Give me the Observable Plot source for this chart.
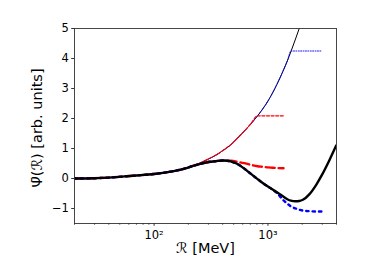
<!DOCTYPE html>
<html><head><meta charset="utf-8">
<script src="https://cdn.jsdelivr.net/npm/d3@7"></script>
<script src="https://cdn.jsdelivr.net/npm/@observablehq/plot@0.6"></script>
<style>body{margin:0;background:#fff} svg{display:block}</style>
</head><body><div id="chart"></div>
<script>
// Energies R [MeV]
const R = [20, 30, 40, 55, 70, 100, 140, 185, 220, 255, 300, 350, 408, 470, 535, 620, 700, 811, 900, 1000, 1100, 1200, 1371, 1480, 1591, 1746, 1882, 2026, 2317, 2653, 2980, 3473, 3975];
// thin black curve
const thin = [0.00,0.01,0.03,0.07,0.10,0.15,0.23,0.33,0.42,0.52,0.65,0.78,0.95,1.12,1.33,1.58,1.80,2.09,2.32,2.58,2.86,3.14,3.62,3.92,4.23,4.65,5.00,5.35,null,null,null,null,null];
// thick black curve
const thick = [0.00,0.01,0.03,0.07,0.10,0.15,0.23,0.33,0.42,0.49,0.55,0.58,0.60,0.57,0.49,0.33,0.17,-0.02,-0.15,-0.27,-0.37,-0.46,-0.61,-0.69,-0.74,-0.76,-0.75,-0.71,-0.52,-0.21,0.12,0.62,1.10];
// red dashed (thin)
const redThin = [0.00,0.01,0.03,0.07,0.10,0.15,0.23,0.33,0.42,0.52,0.65,0.78,0.95,1.12,1.33,1.58,1.80,2.09,2.09,2.09,2.09,2.09,2.09,null,null,null,null,null,null,null,null,null,null];
// blue dotted (thin)
const blueThin = [0.00,0.01,0.03,0.07,0.10,0.15,0.23,0.33,0.42,0.52,0.65,0.78,0.95,1.12,1.33,1.58,1.80,2.09,2.32,2.58,2.86,3.14,3.62,3.92,4.25,4.25,4.25,4.25,4.25,4.25,4.25,null,null];
// red dashed (thick)
const redThick = [0.00,0.01,0.03,0.07,0.10,0.15,0.23,0.33,0.42,0.49,0.55,0.58,0.60,0.59,0.56,0.51,0.46,0.41,0.39,0.37,0.36,0.35,0.34,null,null,null,null,null,null,null,null,null,null];
// blue dotted (thick)
const blueThick = [0.00,0.01,0.03,0.07,0.10,0.15,0.23,0.33,0.42,0.49,0.55,0.58,0.60,0.57,0.49,0.33,0.17,-0.02,-0.15,-0.27,-0.37,-0.49,-0.73,-0.84,-0.93,-1.00,-1.04,-1.07,-1.09,-1.10,-1.10,null,null];

const xMajor = [100, 1000];
const xMajorLabels = ["10²", "10³"];
const xMinor = [20,30,40,50,60,70,80,90,200,300,400,500,600,700,800,900,2000,3000,4000];
const yTicks = [-1, 0, 1, 2, 3, 4, 5];
const yTickLabels = ["−1", "0", "1", "2", "3", "4", "5"];
const xLabel = "ℛ [MeV]";
const yLabel = "Ψ̄(ℛ) [arb. units]";

const series = vals => R.map((r, i) => ({r, v: vals[i]})).filter(d => d.v != null);
const base = {x: "r", y: "v", curve: "monotone-x", clip: true};

const chart = Plot.plot({
  width: 374, height: 280,
  marginLeft: 74, marginRight: 38, marginTop: 28, marginBottom: 57,
  style: {fontFamily: "DejaVu Sans", fontSize: "11.5px", color: "black", background: "white"},
  x: {type: "log", domain: [20, 4000]},
  y: {domain: [-1.5, 5]},
  marks: [
    Plot.line(series(thin), {...base, stroke: "black", strokeWidth: 1}),
    Plot.line(series(blueThin), {...base, stroke: "blue", strokeWidth: 1, strokeDasharray: "0.9,1.5"}),
    Plot.line(series(redThin), {...base, stroke: "red", strokeWidth: 1.2, strokeDasharray: "3,1.6"}),
    Plot.line(series(redThick), {...base, stroke: "red", strokeWidth: 2.4, strokeDasharray: "9,3.9"}),
    Plot.line(series(blueThick), {...base, stroke: "blue", strokeWidth: 2.4, strokeDasharray: "2.4,4"}),
    Plot.line(series(thick), {...base, stroke: "black", strokeWidth: 2.4}),
    Plot.frame({stroke: "#333", strokeWidth: 0.9}),
    Plot.axisX({ticks: xMajor, tickSize: 2.8, tickPadding: 5, stroke: "#333",
      tickFormat: d => xMajorLabels[xMajor.indexOf(d)], label: null}),
    Plot.axisX({ticks: xMinor, tickSize: 1.6, stroke: "#333", tickFormat: () => "", label: null}),
    Plot.axisY({ticks: yTicks, tickSize: 2.8, tickPadding: 2.8, stroke: "#333",
      tickFormat: d => yTickLabels[yTicks.indexOf(d)], label: null}),
    Plot.text([xLabel], {frameAnchor: "bottom", dy: 29.5, fontSize: 14.5, text: d => d, fill: "black"}),
    Plot.text([yLabel], {frameAnchor: "left", textAnchor: "middle", dx: -37, dy: 2, rotate: -90, fontSize: 14.5, text: d => d, fill: "black"})
  ]
});
document.getElementById("chart").appendChild(chart);
</script>
</body></html>
